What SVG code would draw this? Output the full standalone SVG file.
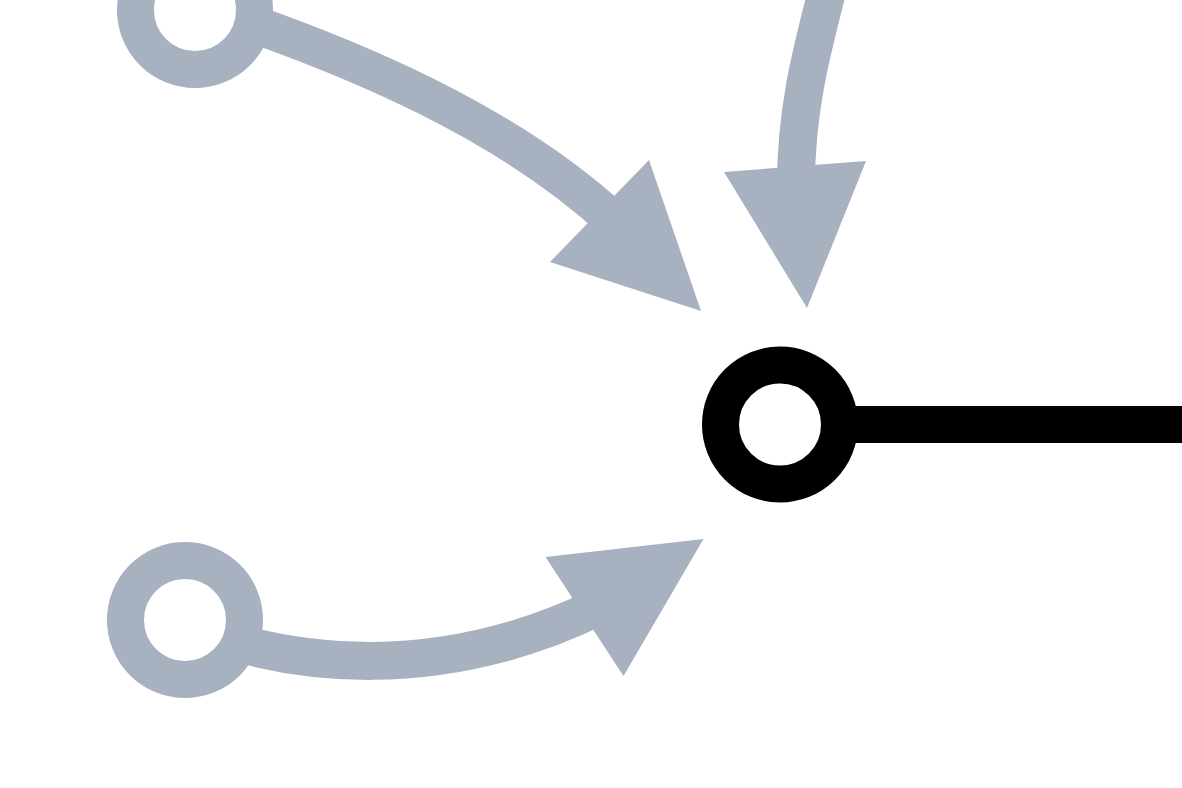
<svg xmlns="http://www.w3.org/2000/svg" width="1182" height="788" viewBox="0 0 1182 788">
  <style>
    .edge { fill: none; stroke: #a8b1c0; stroke-width: 38; }
    .head { fill: #a8b1c0; stroke: none; }
    .port { fill: #ffffff; stroke: #a8b1c0; stroke-width: 37; }
    .main { fill: #ffffff; stroke: #000000; stroke-width: 37; }
    .out { fill: none; stroke: #000000; stroke-width: 37; }
  </style>
  <rect x="0" y="0" width="1182" height="788" fill="#ffffff"/>
  <g id="connectors">
    <path class="edge" d="M 200 6 C 360 58, 510 125, 615 222"/>
    <polygon class="head" points="550,262 649,160 701,311"/>
    <path class="edge" d="M 835 -40 C 815 40, 796 100, 796 185"/>
    <polygon class="head" points="724,172 866,161 807,308"/>
    <path class="edge" d="M 185 625 C 290 668, 440 684, 600 606"/>
    <polygon class="head" points="545.5,557 703.5,539 623.5,676"/>
    <path class="out" d="M 780 424.5 L 1200 424.5"/>
  </g>
  <g id="node-top-left">
    <circle class="port" cx="195" cy="10" r="59.5"/>
  </g>
  <g id="node-bottom-left">
    <circle class="port" cx="185" cy="620" r="59.5"/>
  </g>
  <g id="node-center">
    <circle class="main" cx="780" cy="424.5" r="59.5"/>
  </g>
</svg>
